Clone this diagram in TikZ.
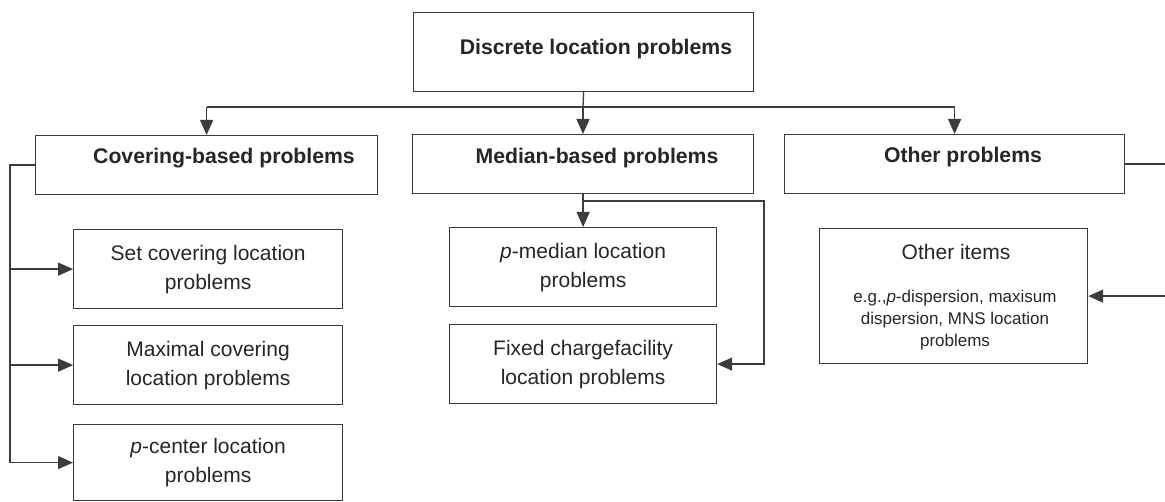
\documentclass[tikz,border=0pt]{standalone}
\usepackage{fontspec}
\setmainfont{Liberation Sans}
\usetikzlibrary{arrows.meta}
\definecolor{boxc}{HTML}{3A3A3A}
\definecolor{linec}{HTML}{3C3C3C}
\definecolor{txt}{HTML}{262626}
\tikzset{
  box/.style={draw=boxc, line width=1.2pt, inner sep=0pt, anchor=north west, align=center,
    font=\fontsize{21}{29}\selectfont, text=txt},
  boldtext/.style={font=\fontsize{21.2}{26}\selectfont\bfseries, text=txt, inner sep=0pt},
  plaintext/.style={font=\fontsize{21}{29}\selectfont, text=txt, inner sep=0pt, align=center},
  smalltext/.style={font=\fontsize{17}{22}\selectfont, text=txt, inner sep=0pt, align=center},
  conn/.style={draw=linec, line width=1.3pt},
  arr/.style={conn, -{Triangle[length=15pt,width=13pt]}}
}
\begin{document}
\begin{tikzpicture}[x=1pt,y=-1pt]
\useasboundingbox[fill=white] (0,0) rectangle (1165,502);

% level 0
\node[box, minimum width=340pt, minimum height=79pt] (top) at (413,12) {};
\node[boldtext] (topT) at (596,49) {Discrete location problems};

% level 1
\node[box, minimum width=342pt, minimum height=59pt] (cov) at (35,135) {};
\node[boldtext] (covT) at (224,158) {Covering-based problems};
\node[box, minimum width=341pt, minimum height=59pt] (med) at (412,134) {};
\node[boldtext] (medT) at (597,158) {Median-based problems};
\node[box, minimum width=340pt, minimum height=59pt] (oth) at (784,134) {};
\node[boldtext] (othT) at (963,157) {Other problems};

% covering children
\node[box, minimum width=269pt, minimum height=79pt] (set) at (73,229) {Set covering location\\problems};
\node[box, minimum width=269pt, minimum height=79pt] (max) at (73,325) {Maximal covering\\location problems};
\node[box, minimum width=269pt, minimum height=76pt] (pc) at (73,424) {\textit{p}-center location\\problems};

% median children
\node[box, minimum width=267pt, minimum height=79pt] (pmed) at (449,227) {\textit{p}-median location\\problems};
\node[box, minimum width=267pt, minimum height=79pt] (fix) at (449,324) {Fixed chargefacility\\location problems};

% other children
\node[box, minimum width=268pt, minimum height=135pt] (oi) at (819,228) {};
\node[plaintext] (oiT) at (956,252) {Other items};
\node[smalltext] (oiS) at (955,320) {e.g.,\textit{p}-dispersion, maxisum\\dispersion, MNS location\\problems};

% connectors from top
\coordinate (j) at (583,107);
\draw[conn] (top.south) -- (j);
\draw[conn] (cov.north |- j) -- (oth.north |- j);
\draw[arr] (cov.north |- j) -- (cov.north);
\draw[arr] (j) -- (j |- med.north);
\draw[arr] (oth.north |- j) -- (oth.north);

% covering branch
\coordinate (L) at (10,0);
\draw[arr] (cov.west) -- (L |- cov.west) |- (pc.west);
\draw[arr] (L |- set.west) -- (set.west);
\draw[arr] (L |- max.west) -- (max.west);

% median branch
\coordinate (R) at (764,201);
\draw[arr] (med.south) -- (pmed.north);
\draw[arr] (med.south |- R) -- (R) |- (fix.east);

% other branch
\coordinate (E) at (1166.5,0);
\draw[arr] (oth.east) -- (E |- oth.east) |- (oi.east);
\end{tikzpicture}
\end{document}
